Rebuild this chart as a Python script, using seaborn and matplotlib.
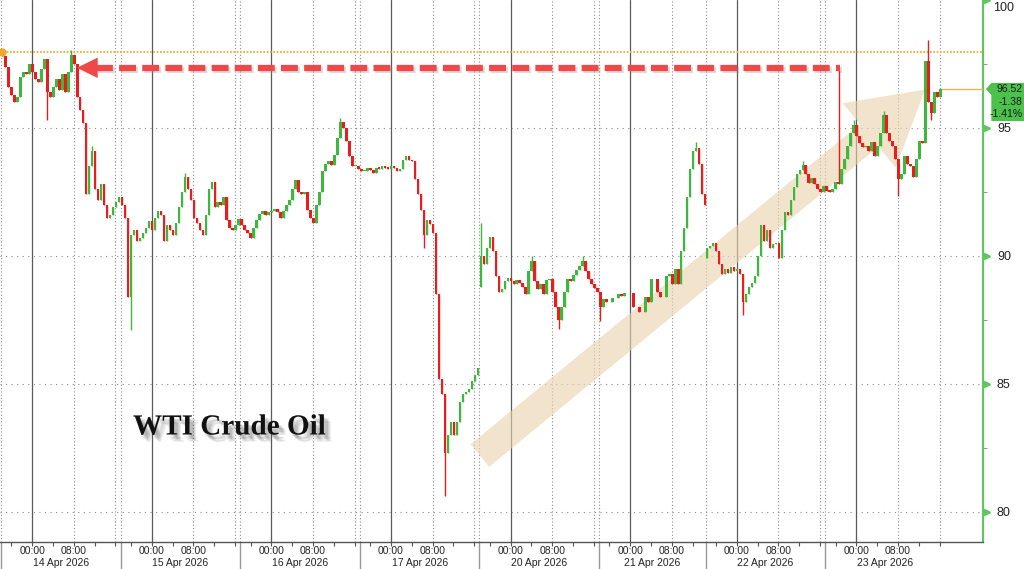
import numpy as np
import pandas as pd
import matplotlib
matplotlib.use("Agg")
import matplotlib.pyplot as plt
import matplotlib.transforms as mtransforms
import matplotlib.patheffects as pe
from matplotlib.patches import Polygon, FancyArrowPatch
import seaborn as sns

# trading sessions (Globex day: 18:00 previous evening -> 17:00)
SESSIONS = ["14 Apr 2026", "15 Apr 2026", "16 Apr 2026", "17 Apr 2026",
            "20 Apr 2026", "21 Apr 2026", "22 Apr 2026", "23 Apr 2026"]
SESSION_HOURS = [23, 23, 23, 23, 23, 20.5, 23, 23]
SESSION_OPEN = [98.1, None, None, None, 88.8, None, 89.9, None]
BAR_HOURS = 23 / 40

# bar closes per session (None = no trade in that bar)
close_14apr = [97.8, 97.4, 96.6, 96.3, 96.0, 96.2, 97.0, 97.2, 97.1, 97.5,
               97.2, 96.9, 96.8, 97.3, 97.7, 96.4, 96.2, 96.6, 96.9, 96.5,
               97.1, 96.4, 97.2, 97.85, 97.5, 96.2, 95.7, 95.2, 92.4, 93.5,
               94.1, 92.6, 92.2, 92.8, 92.0, 91.5, 91.6, 91.9, 92.1, 92.3]
close_15apr = [92.0, 91.5, 88.4, 90.8, 91.0, 90.6, 90.7, 90.9, 91.1, 91.35,
               91.0, 91.5, 91.75, 91.6, 90.6, 91.2, 91.0, 90.8, 91.3, 91.9,
               92.5, 93.1, 92.6, 92.2, 91.5, 91.3, 91.0, 90.8, 91.6, 92.6,
               92.9, 91.9, 92.1, 92.0, 92.3, 91.4, 91.1, 91.0, 91.2, 91.45]
close_16apr = [91.2, 91.0, 90.9, 90.7, 91.1, 91.4, 91.65, 91.75, 91.6, 91.7,
               91.75, 91.85, 91.7, 91.5, 91.75, 92.0, 92.2, 92.6, 92.95, 92.5,
               92.4, 92.5, 91.8, 91.5, 91.3, 92.0, 92.5, 93.3, 93.6, 93.7,
               93.55, 93.95, 94.6, 95.25, 95.0, 94.5, 93.9, 93.5, 93.5, 93.4]
close_17apr = [93.3, 93.3, 93.45, 93.35, 93.25, 93.45, 93.4, 93.5, 93.45, 93.4,
               93.5, 93.45, 93.3, 93.4, 93.75, 93.9, 93.75, 93.7, 93.0, 92.4,
               91.8, 90.8, 91.4, 91.25, 90.9, 88.5, 85.2, 84.6, 82.3, 83.0,
               83.5, 83.0, 83.5, 84.3, 84.6, 84.7, 84.8, 85.1, 85.35, 85.6]
close_20apr = [90.0, 89.7, 90.3, 90.75, 90.2, 89.2, 88.6, 88.7, 89.0, 89.15,
               89.0, 88.9, 89.05, 88.95, 88.8, 88.5, 89.4, 89.8, 89.0, 88.7,
               88.9, 88.5, 89.05, 89.1, 88.6, 88.0, 87.5, 88.0, 88.6, 89.1,
               89.0, 89.25, 89.45, 89.6, 89.8, 89.4, 89.1, 88.9, 88.75, 88.6]
close_21apr = [88.0, 88.3, 88.2, None, 88.35, None, 88.5, 88.45, 88.55, None,
               None, 88.0, None, 87.8, None, 88.4, 88.2, 89.1, None, 88.6,
               88.4, None, 89.2, 89.3, 88.9, 89.5, 88.9, 90.2, 91.1, 92.3,
               93.4, 94.1, 94.2, 93.6, 92.4, 92.0]
close_22apr = [90.3, 90.4, 90.5, 90.2, 89.7, 89.3, 89.5, 89.35, 89.55, 89.4,
               89.5, 89.3, 88.2, 88.5, 88.8, 88.95, 89.2, 90.0, 91.2, 90.6,
               91.0, 90.3, 90.45, 90.5, 89.9, 91.0, 91.7, 91.6, 92.2, 92.7,
               93.2, 93.35, 93.55, 93.2, 92.85, 93.05, 92.8, 92.6, 92.5, 92.75]
close_23apr = [92.55, 92.5, 92.6, 92.9, 92.8, 93.4, 93.8, 94.3, 94.8, 95.1,
               94.7, 94.4, 94.25, 94.3, 94.1, 94.45, 93.9, 94.3, 94.8, 95.5,
               94.8, 94.5, 94.3, 93.8, 93.0, 93.2, 93.9, 93.6, 93.5, 93.1,
               93.8, 94.5, 94.4, 97.6, 96.0, 95.6, 96.4, 96.2, 96.52]
CLOSES = [close_14apr, close_15apr, close_16apr, close_17apr,
          close_20apr, close_21apr, close_22apr, close_23apr]

# notable wicks (session index, bar index, extreme price)
WICK_SESSION = [0, 0, 0, 1, 1, 2, 3, 3, 4, 4, 4, 4, 5, 5, 6, 6, 7, 7, 7, 7, 7, 7]
WICK_BAR = [15, 23, 30, 3, 21, 33, 21, 28, 0, 17, 26, 34, 0, 32, 12, 32, 4, 9, 19, 24, 34, 35]
WICK_PRICE = [95.3, 98.05, 94.3, 87.1, 93.25, 95.4, 90.3, 80.6, 91.3, 90.0, 87.15, 90.0,
              87.45, 94.45, 87.7, 93.7, 97.25, 95.3, 95.65, 92.35, 98.45, 95.3]

PRIOR_HIGH = 97.95
LAST_PRICE = 96.52
LAST_CHANGE = "-1.38"
LAST_PCT = "-1.41%"
Y_TICKS = [80, 85, 90, 95]
Y_TOP = 100
Y_MINOR = [82.5, 87.5, 92.5, 97.5]
TIME_LABELS = ["00:00", "08:00"]
TIME_OFFSETS = [6, 14]

GREEN = "#3cb83c"
RED = "#ec1c1c"
AXIS_GREEN = "#5cc85c"

starts = np.concatenate([[0], np.cumsum(SESSION_HOURS)[:-1]])

rows = []
prev = None
for s, closes in enumerate(CLOSES):
    if SESSION_OPEN[s] is not None:
        prev = SESSION_OPEN[s]
    for i, c in enumerate(closes):
        if c is None:
            continue
        rows.append({"session": s, "bar": i,
                     "t": starts[s] + (i + 0.5) * BAR_HOURS,
                     "open": prev, "close": c})
        prev = c
df = pd.DataFrame(rows)
df["high"] = df[["open", "close"]].max(axis=1)
df["low"] = df[["open", "close"]].min(axis=1)
for s, b, p in zip(WICK_SESSION, WICK_BAR, WICK_PRICE):
    m = (df.session == s) & (df.bar == b)
    if p > df.loc[m, "high"].iloc[0]:
        df.loc[m, "high"] = p
    else:
        df.loc[m, "low"] = p

sns.set_theme(style="white")
plt.rcParams["font.family"] = ["Liberation Sans", "DejaVu Sans"]

fig = plt.figure(figsize=(10.24, 5.69), dpi=100)
ax = fig.add_axes([0, 1 - 542 / 569, 983 / 1024, 542 / 569])
xmax = 982 / 5.2
ax.set_xlim(-0.19, xmax)
ax.set_ylim(78.82, 100.0)

# grid
for y in Y_TICKS:
    ax.axhline(y, color="#8c8c8c", lw=0.8, ls=(0, (1, 4)), zorder=1)
for s, st in enumerate(starts):
    ax.axvline(st, color="#8c8c8c", lw=0.8, ls=(0, (1, 2)), zorder=1)
    ax.axvline(st + 6, color="#5a5a5a", lw=0.9, zorder=1)
    ax.axvline(st + 14, color="#8c8c8c", lw=0.8, ls=(0, (1, 2)), zorder=1)
    if 22 < SESSION_HOURS[s]:
        ax.axvline(st + 22, color="#8c8c8c", lw=0.8, ls=(0, (1, 2)), zorder=1)

# beige trend arrow
trend = FancyArrowPatch((92.1, 82.2), (177.7, 96.5),
                        arrowstyle="simple,head_length=2.6,head_width=3.0,tail_width=1.05",
                        mutation_scale=20, fc="#e9d3ad", ec="none", alpha=0.62,
                        shrinkA=0, shrinkB=0, zorder=2)
ax.add_patch(trend)

# prior high line
ax.axhline(PRIOR_HIGH, color="#e6b53d", lw=1.5, ls=(0, (0.8, 0.8)), zorder=2)
ax.plot(starts[0] + 0.15, PRIOR_HIGH, "o", ms=5, color="#f0a830", zorder=5, clip_on=False)

# candles
up = df.close >= df.open
colors = np.where(up, GREEN, RED)
body = (df.close - df.open).abs().clip(lower=0.06)
bottom = df[["open", "close"]].min(axis=1)
ax.vlines(df.t, df.low, df.high, colors=colors, lw=1.0, zorder=3)
ax.bar(df.t, body, bottom=bottom, width=BAR_HOURS * 0.85, color=colors, lw=0, zorder=4)

# last price line
ax.hlines(LAST_PRICE, df.t.iloc[-1], xmax, color="#e3b94f", lw=1, zorder=3)

# red dashed arrow back to the prior high
arrow_y = 97.35
ax.plot([18.3, 161.3], [arrow_y, arrow_y], color="#f04848", lw=4.5,
        ls=(0, (2.7, 1.0)), solid_capstyle="butt", zorder=6,
        path_effects=[pe.SimpleLineShadow(offset=(1.5, -1.5), shadow_color="#888", alpha=0.3),
                      pe.Normal()])
head = Polygon([(14.6, arrow_y), (18.6, arrow_y + 0.4), (18.6, arrow_y - 0.4)],
               closed=True, fc="#f04848", ec="none", zorder=6)
ax.add_patch(head)

# title with soft shadow
shadow = [pe.SimplePatchShadow(offset=(dx, -dy), shadow_rgbFace="#555555", alpha=0.09)
          for dx, dy in [(1, 2), (2, 3), (3, 4), (4, 5), (3, 3), (4, 3), (5, 5)]]
ax.text(133 / 983, 1 - 427 / 542, "WTI Crude Oil", transform=ax.transAxes,
        family="Liberation Serif", weight="bold", fontsize=21, color="#111111",
        va="center", ha="left", zorder=7, path_effects=shadow + [pe.Normal()])

# spines
for side in ["top", "left"]:
    ax.spines[side].set_visible(False)
ax.spines["right"].set_color(AXIS_GREEN)
ax.spines["right"].set_linewidth(1.5)
ax.spines["bottom"].set_color("#555555")
ax.spines["bottom"].set_linewidth(1)

# y axis on the right
ax.yaxis.tick_right()
ax.set_yticks(Y_TICKS)
ax.set_yticks(Y_MINOR, minor=True)
ax.tick_params(axis="y", which="major", length=0, pad=10, labelsize=9, labelcolor="#222222")
ax.tick_params(axis="y", which="minor", length=3, width=0.8, color="#999999",
               right=True, left=False, direction="out")
ty = mtransforms.blended_transform_factory(ax.transAxes, ax.transData)
ax.plot(np.full(len(Y_TICKS) + 1, 1.004), Y_TICKS + [Y_TOP], ">", ms=4.5, color=AXIS_GREEN,
        transform=ty, clip_on=False, zorder=8)
ax.text(1.0106, Y_TOP - 0.06, str(Y_TOP), transform=ty, ha="left", va="top",
        fontsize=9, color="#222222", clip_on=False)

# x axis
minor_x = [st + h for s, st in enumerate(starts) for h in [2, 6, 10, 14, 18, 22]
           if h < SESSION_HOURS[s]]
ax.set_xticks(minor_x)
ax.tick_params(axis="x", length=3, width=0.8, color="#555555", bottom=True,
               direction="out", labelbottom=False)
tx = mtransforms.blended_transform_factory(ax.transData, ax.transAxes)
for s, st in enumerate(starts):
    ax.plot([st, st], [0, -0.06], color="#9a9a9a", lw=1, transform=tx, clip_on=False)
    for lab, off in zip(TIME_LABELS, TIME_OFFSETS):
        ax.text(st + off, -9 / 542, lab, transform=tx, ha="center", va="center",
                fontsize=7.5, color="#222222")
    ax.text(st + SESSION_HOURS[s] / 2, -21 / 542, SESSIONS[s], transform=tx,
            ha="center", va="center", fontsize=7.5, color="#222222")

# last price tag
tag = Polygon([(1.003, LAST_PRICE), (1.0085, LAST_PRICE + 0.24), (1.06, LAST_PRICE + 0.24),
               (1.06, LAST_PRICE - 1.25), (1.0085, LAST_PRICE - 1.25), (1.0085, LAST_PRICE - 0.24)],
              closed=True, fc="#4cc24c", ec="none", transform=ty, clip_on=False, zorder=9)
ax.add_patch(tag)
for lab, dy in zip([f"{LAST_PRICE:.2f}", LAST_CHANGE, LAST_PCT], [0, -0.5, -0.97]):
    ax.text(1.0405, LAST_PRICE + dy, lab, transform=ty, ha="right", va="center",
            fontsize=7.5, color="#1a1a1a", zorder=10, clip_on=False)

fig.savefig("out.png", dpi=100)
